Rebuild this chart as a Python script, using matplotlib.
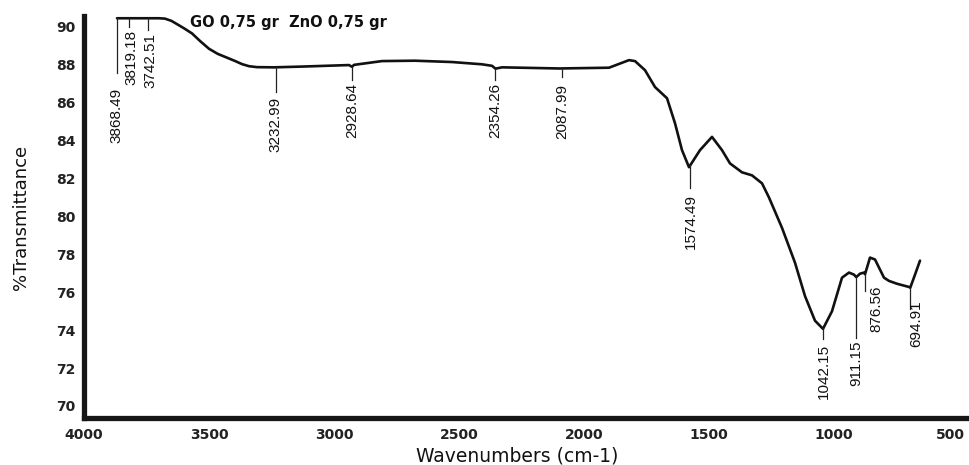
import matplotlib
matplotlib.use("Agg")
import matplotlib.pyplot as plt
import matplotlib.transforms as mtransforms
import numpy as np

# ---- data ----
wavenumber = [3868, 3788, 3700, 3676, 3650, 3628, 3600, 3568, 3535, 3500,
              3465, 3428, 3395, 3368, 3340, 3308, 3240, 3128,
              2940, 2928, 2920, 2808, 2676, 2528, 2408, 2368, 2354, 2328,
              2100, 1900, 1820, 1796, 1756, 1716, 1668, 1636, 1608, 1580,
              1536, 1488, 1448, 1416, 1368, 1328, 1288, 1260, 1208, 1156,
              1116, 1076, 1044, 1008, 968, 940, 920, 911, 896, 880,
              876, 856, 836, 800, 780, 748, 700, 695, 676, 656]
transmittance = [90.46, 90.46, 90.46, 90.44, 90.32, 90.15, 89.93, 89.66, 89.25, 88.85,
                 88.58, 88.38, 88.20, 88.04, 87.93, 87.88, 87.87, 87.91,
                 87.99, 87.90, 88.00, 88.20, 88.22, 88.15, 88.03, 87.95, 87.80, 87.87,
                 87.81, 87.85, 88.25, 88.20, 87.72, 86.83, 86.24, 84.92, 83.50, 82.60,
                 83.50, 84.20, 83.50, 82.80, 82.33, 82.17, 81.75, 81.00, 79.40, 77.56,
                 75.80, 74.50, 74.07, 75.00, 76.77, 77.04, 76.93, 76.80, 76.98, 77.04,
                 76.95, 77.83, 77.73, 76.77, 76.60, 76.45, 76.28, 76.24, 76.93, 77.67]

peak_wn = [3868.49, 3819.18, 3742.51, 3232.99, 2928.64, 2354.26, 2087.99,
           1574.49, 1042.15, 911.15, 876.56, 694.91]
peak_labels = ["3868.49", "3819.18", "3742.51", "3232.99", "2928.64", "2354.26",
               "2087.99", "1574.49", "1042.15", "911.15", "876.56", "694.91"]

y_ticks = [70, 72, 74, 76, 78, 80, 82, 84, 86, 88, 90]
x_ticks = [4000, 3500, 3000, 2500, 2000, 1500, 1000, 500]

title_text = "GO 0,75 gr  ZnO 0,75 gr"
x_label = "Wavenumbers (cm-1)"
y_label = "%Transmittance"

# ---- layout of peak annotations (line end, label top, label shift) ----
line_end = [87.57, 90.00, 89.84, 86.56, 87.20, 87.20, 87.35, 81.48, 73.55, 73.60, 76.08, 75.13]
label_top = [86.77, 89.84, 89.68, 86.30, 87.04, 87.04, 86.98, 81.20, 73.28, 73.44, 76.35, 75.56]
label_dx = [0, -8, -10, 0, 0, 0, 0, 0, 0, 0, -45, -25]

fig = plt.figure(figsize=(9.70, 4.65), dpi=100)
ax = fig.add_axes([84 / 970, 1 - 418.3 / 465, (970 - 84) / 970, 402.7 / 465])

ax.plot(wavenumber, transmittance, color="#111111", lw=1.9,
        solid_joinstyle="round", solid_capstyle="round")

wn_sorted = np.array(wavenumber[::-1])
tr_sorted = np.array(transmittance[::-1])
for wn, lab, le, lt, dx in zip(peak_wn, peak_labels, line_end, label_top, label_dx):
    ytop = float(np.interp(wn, wn_sorted, tr_sorted))
    ax.plot([wn, wn], [ytop, le], color="#222222", lw=0.9)
    ax.text(wn + dx, lt, lab, rotation=90, ha="center", va="top",
            fontsize=11, family=["Liberation Sans", "DejaVu Sans"],
            color="#111111")

ax.set_xlim(4000, 456)
ax.set_ylim(69.35, 90.6)
ax.set_xticks(x_ticks)
ax.set_yticks(y_ticks)
ax.set_xticklabels([str(v) for v in x_ticks], fontsize=10, fontweight="bold",
                   family="DejaVu Sans", color="#222222")
ax.set_yticklabels([str(v) for v in y_ticks], fontsize=10, fontweight="bold",
                   family="DejaVu Sans", color="#222222")
ax.tick_params(axis="x", length=0, pad=7)
ax.tick_params(axis="y", length=0, pad=6)

# shift the last x tick label slightly left so it stays inside the image
last = ax.get_xticklabels()[-1]
last.set_transform(last.get_transform() +
                   mtransforms.ScaledTranslation(-9 / 100, 0, fig.dpi_scale_trans))

for s in ["top", "right"]:
    ax.spines[s].set_visible(False)
for s in ["left", "bottom"]:
    ax.spines[s].set_linewidth(3.8)
    ax.spines[s].set_color("#161616")
    ax.spines[s].set_capstyle("projecting")

ax.set_xlabel(x_label, fontsize=13.5, family="DejaVu Sans", color="#111111")
ax.xaxis.set_label_coords((517 - 84) / 886, -(446 - 418.3) / 402.7)
ax.set_ylabel(y_label, fontsize=13, family="DejaVu Sans", color="#111111")
ax.yaxis.set_label_coords(-(84 - 30) / 886, 0.5)

fig.text(190 / 970, 1 - 22 / 465, title_text, ha="left", va="center",
         fontsize=10.5, fontweight="bold", family="DejaVu Sans", color="#111111")

fig.savefig("out.png", dpi=100, facecolor="white")
